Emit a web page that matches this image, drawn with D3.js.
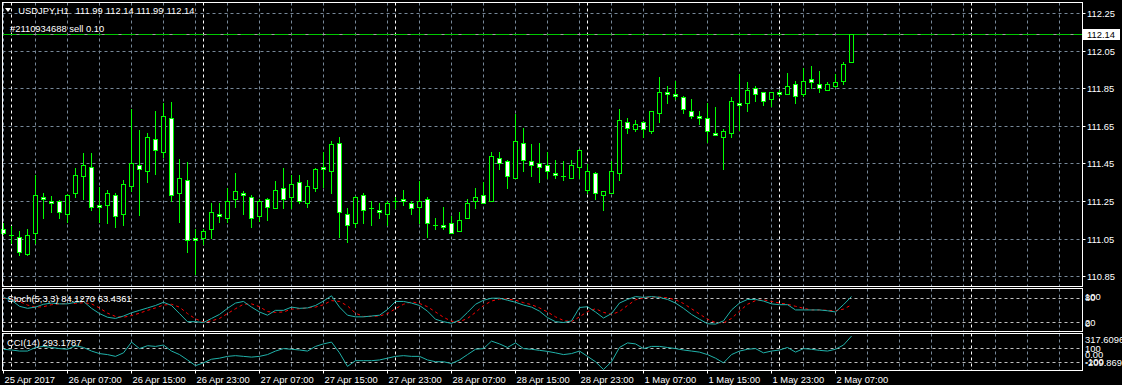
<!DOCTYPE html>
<html lang="en">
<head>
<meta charset="UTF-8">
<title>USDJPY,H1</title>
<script src="https://d3js.org/d3.v7.min.js"></script>
<style>
  body { margin: 0; background: #000; }
  svg { display: block; font-family: "Liberation Sans", Arial, sans-serif; font-size: 9.4px; }
  .lbl { fill: #fff; }
</style>
</head>
<body>
<svg width="1122" height="385"></svg>
<script>
// USDJPY H1 bars, first bar = 25 Apr 2017 23:00
const opens = [111.102,111.070,111.060,110.969,111.079,111.272,111.251,111.251,111.182,111.291,
  111.382,111.432,111.230,111.228,111.283,111.182,111.331,111.443,111.411,111.581,
  111.510,111.693,111.291,111.363,111.054,111.054,111.102,111.182,111.161,111.262,
  111.294,111.272,111.171,111.262,111.214,111.320,111.272,111.352,111.240,111.320,
  111.432,111.411,111.560,111.180,111.134,111.283,111.215,111.203,111.180,111.252,
  111.262,111.240,111.219,111.262,111.124,111.123,111.134,111.091,111.161,111.251,
  111.283,111.251,111.480,111.464,111.373,111.560,111.464,111.453,111.443,111.400,
  111.385,111.373,111.432,111.310,111.400,111.283,111.294,111.400,111.671,111.634,
  111.671,111.623,111.719,111.831,111.820,111.804,111.730,111.703,111.693,111.613,
  111.591,111.613,111.772,111.772,111.852,111.831,111.794,111.831,111.820,111.873,
  111.820,111.900,111.873,111.841,111.863,111.889,111.990];
const highs = [111.134,111.116,111.093,111.103,111.386,111.295,111.274,111.253,111.286,111.423,
  111.503,111.503,111.322,111.306,111.294,111.364,111.737,111.625,111.614,111.731,
  111.769,111.774,111.471,111.455,111.102,111.102,111.240,111.240,111.320,111.400,
  111.304,111.283,111.258,111.264,111.354,111.423,111.386,111.386,111.363,111.423,
  111.512,111.570,111.593,111.214,111.274,111.294,111.251,111.240,111.251,111.272,
  111.311,111.251,111.354,111.272,111.161,111.219,111.171,111.193,111.262,111.320,
  111.352,111.512,111.512,111.466,111.714,111.639,111.554,111.560,111.512,111.469,
  111.464,111.469,111.524,111.448,111.402,111.304,111.464,111.740,111.693,111.682,
  111.673,111.731,111.911,111.863,111.889,111.810,111.794,111.730,111.772,111.749,
  111.634,111.804,111.927,111.884,111.863,111.832,111.831,111.841,111.932,111.889,
  111.959,111.969,111.943,111.884,111.927,111.990,112.140];
const lows = [111.072,111.028,110.965,110.965,111.029,111.158,111.190,111.158,111.137,111.270,
  111.258,111.201,111.137,111.132,111.111,111.121,111.302,111.178,111.350,111.396,
  111.485,111.249,111.137,110.978,110.863,111.022,111.054,111.137,111.137,111.217,
  111.182,111.111,111.146,111.150,111.214,111.214,111.214,111.240,111.219,111.304,
  111.326,111.294,111.060,111.031,111.113,111.134,111.123,111.161,111.123,111.214,
  111.230,111.182,111.134,111.060,111.102,111.102,111.079,111.091,111.161,111.214,
  111.240,111.249,111.421,111.320,111.373,111.411,111.384,111.352,111.373,111.373,
  111.363,111.373,111.373,111.294,111.262,111.203,111.294,111.363,111.613,111.623,
  111.591,111.613,111.671,111.772,111.794,111.719,111.693,111.661,111.565,111.602,
  111.419,111.591,111.629,111.730,111.783,111.762,111.756,111.810,111.820,111.772,
  111.810,111.852,111.831,111.841,111.857,111.873,111.990];
const closes = [111.081,111.070,110.980,111.070,111.283,111.262,111.240,111.190,111.283,111.389,
  111.443,111.219,111.219,111.294,111.169,111.341,111.453,111.421,111.591,111.520,
  111.703,111.281,111.373,111.044,111.044,111.091,111.193,111.171,111.251,111.304,
  111.283,111.161,111.251,111.219,111.310,111.262,111.341,111.251,111.331,111.421,
  111.421,111.554,111.193,111.123,111.272,111.203,111.213,111.193,111.240,111.250,
  111.251,111.214,111.251,111.134,111.122,111.113,111.081,111.150,111.240,111.272,
  111.240,111.490,111.453,111.384,111.570,111.469,111.443,111.432,111.411,111.389,
  111.383,111.443,111.522,111.411,111.294,111.304,111.411,111.682,111.639,111.661,
  111.634,111.730,111.831,111.820,111.810,111.740,111.703,111.693,111.623,111.602,
  111.623,111.783,111.762,111.841,111.820,111.783,111.831,111.820,111.863,111.810,
  111.889,111.884,111.852,111.873,111.884,111.980,112.140];

// Stochastic (5,3,3): main and signal
const stochMain = [82,75,60,55,58,65,68,66,66,70,72,55,42,33,30,36,44,50,56,62,
  70,62,42,22,22,20,30,40,55,68,72,58,46,38,50,50,58,55,56,62,
  73,86,58,38,34,34,36,38,52,72,72,68,62,48,28,22,18,26,45,65,
  75,80,80,75,70,63,58,48,32,22,20,24,57,59,46,31,42,68,77,84,
  82,84,82,77,68,55,40,28,17,16,24,51,68,77,77,73,66,64,64,51,
  51,51,51,49,46,64,84.127];
const stochSignal = [80,78,72,63,58,59,64,66,67,67,69,66,56,43,35,33,37,43,50,56,
  63,65,58,42,29,21,24,30,42,54,65,66,59,47,45,46,53,54,56,58,
  64,74,72,61,43,35,35,36,42,54,65,71,67,59,46,33,23,22,30,45,
  62,73,78,78,75,69,64,56,46,34,25,22,34,47,54,45,40,47,62,76,
  81,83,83,81,76,67,54,41,28,20,19,30,48,65,74,76,72,68,65,60,
  55,51,51,50,49,53,63.4361];
// CCI(14)
const cci = [95,84,68,68,122,138,122,105,95,149,122,68,30,15,-12,41,203,105,149,138,
  159,68,15,-66,-152,-110,-55,-39,-12,-1,-12,-23,-12,15,68,105,95,84,68,138,
  176,203,41,-163,-77,-77,-77,-66,-39,-12,-1,-12,-12,-66,-93,-93,-120,-66,15,95,
  105,218,176,122,191,105,95,79,63,41,15,30,68,-12,-93,-209.9,-93,122,191,176,
  105,138,138,122,105,84,68,52,15,-39,-110,15,68,95,105,41,68,84,122,52,
  105,95,79,68,95,159,293.1787];

const priceTicks = [112.25, 112.05, 111.85, 111.65, 111.45, 111.25, 111.05, 110.85];
const timeTickBars = [0, 8, 16, 24, 32, 40, 48, 56, 64, 72, 80, 88, 96, 104];
const timeLabels = ["25 Apr 2017", "26 Apr 07:00", "26 Apr 15:00", "26 Apr 23:00", "27 Apr 07:00",
  "27 Apr 15:00", "27 Apr 23:00", "28 Apr 07:00", "28 Apr 15:00", "28 Apr 23:00",
  "1 May 07:00", "1 May 15:00", "1 May 23:00", "2 May 07:00"];
const daySeparators = [1, 25, 49, 73, 97, 121];
const stochLevels = [80, 20];
const cciLevels = [100, -100];
const cciRange = [-209.869, 317.6096];
const orderText = "#2110934688 sell 0.10";

const svg = d3.select("svg");
const N = opens.length;
const gridCol = "#778899", lime = "#00ff00", seaGreen = "#20b2aa";

// panels
const main = {top: 2.5, bottom: 286.5};
const stP = {top: 288.5, bottom: 331.5};
const ccP = {top: 333.5, bottom: 370.5};
const left = 2.5, right = 1082.5;

const x = d3.scaleLinear().domain([0, 1]).range([3.5, 11.5]);
const y = d3.scaleLinear().domain([110.85, 112.25]).range([276.7, 13.5]);
const ys = d3.scaleLinear().domain([0, 100]).range([330.6, 290.1]);
const yc = d3.scaleLinear().domain(cciRange).range([369.5, 334.5]);
const crisp = v => Math.floor(v) + 0.5;

svg.append("rect").attr("width", 1122).attr("height", 385).attr("fill", "#000");

// vertical grid + day separators in every panel
const gridBars = d3.range(0, 200, 4).filter(i => x(i) < right);
[main, stP, ccP].forEach(p => {
  svg.append("g").selectAll("line").data(gridBars).join("line")
    .attr("x1", d => x(d)).attr("x2", d => x(d))
    .attr("y1", p.top).attr("y2", p.bottom)
    .attr("stroke", gridCol).attr("stroke-dasharray", "3,3");
  svg.append("g").selectAll("line").data(daySeparators).join("line")
    .attr("x1", d => x(d)).attr("x2", d => x(d))
    .attr("y1", p.top).attr("y2", p.bottom)
    .attr("stroke", "#fff").attr("stroke-dasharray", "3,3");
});

// horizontal price grid
svg.append("g").selectAll("line").data(priceTicks).join("line")
  .attr("x1", left).attr("x2", right)
  .attr("y1", d => crisp(y(d))).attr("y2", d => crisp(y(d)))
  .attr("stroke", gridCol).attr("stroke-dasharray", "3,3");

// indicator levels
svg.append("g").selectAll("line").data(stochLevels).join("line")
  .attr("x1", left).attr("x2", right)
  .attr("y1", d => crisp(ys(d))).attr("y2", d => crisp(ys(d)))
  .attr("stroke", "#c0c0c0").attr("stroke-dasharray", "3,3");
svg.append("g").selectAll("line").data(cciLevels).join("line")
  .attr("x1", left).attr("x2", right)
  .attr("y1", d => crisp(yc(d))).attr("y2", d => crisp(yc(d)))
  .attr("stroke", "#c0c0c0").attr("stroke-dasharray", "3,3");

// bid / order line at last close
const last = N - 1;
const pl = crisp(y(closes[last]));
svg.append("line").attr("x1", left).attr("x2", right).attr("y1", pl).attr("y2", pl)
  .attr("stroke", "#a0a0a0");
svg.append("line").attr("x1", left).attr("x2", right).attr("y1", pl).attr("y2", pl)
  .attr("stroke", "#00c800").attr("stroke-dasharray", "14,3");

// candles
const bars = d3.range(N).map(i => ({i, o: opens[i], h: highs[i], l: lows[i], c: closes[i]}));
const cg = svg.append("g").attr("shape-rendering", "crispEdges");
cg.selectAll(".wick").data(bars).join("line")
  .attr("x1", d => x(d.i)).attr("x2", d => x(d.i))
  .attr("y1", d => Math.floor(y(d.h))).attr("y2", d => Math.floor(y(d.l)) + 1)
  .attr("stroke", lime);
bars.forEach(d => {
  const t = crisp(y(Math.max(d.o, d.c))), b = crisp(y(Math.min(d.o, d.c)));
  if (b - t < 1) {
    cg.append("line").attr("x1", x(d.i) - 2.5).attr("x2", x(d.i) + 2.5)
      .attr("y1", t).attr("y2", t).attr("stroke", lime);
  } else {
    cg.append("rect").attr("x", x(d.i) - 2).attr("y", t)
      .attr("width", 4).attr("height", b - t)
      .attr("fill", d.c > d.o ? "#000" : "#fff").attr("stroke", lime);
  }
});

// indicator lines
const stLine = d3.line().x((d, i) => x(i)).y(d => ys(d));
svg.append("path").datum(stochSignal).attr("d", stLine).attr("fill", "none")
  .attr("stroke", "#ff0000").attr("stroke-dasharray", "3,3");
svg.append("path").datum(stochMain).attr("d", stLine).attr("fill", "none")
  .attr("stroke", seaGreen);
svg.append("path").datum(cci).attr("d", d3.line().x((d, i) => x(i)).y(d => yc(d)))
  .attr("fill", "none").attr("stroke", seaGreen);

// panel frames
[main, stP, ccP].forEach(p => {
  svg.append("rect").attr("x", left).attr("y", p.top)
    .attr("width", right - left).attr("height", p.bottom - p.top)
    .attr("fill", "none").attr("stroke", "#fff");
});

// price axis
svg.append("g").selectAll("line").data(priceTicks).join("line")
  .attr("x1", right).attr("x2", right + 3)
  .attr("y1", d => crisp(y(d))).attr("y2", d => crisp(y(d))).attr("stroke", "#fff");
svg.append("g").selectAll("text").data(priceTicks).join("text")
  .attr("class", "lbl").attr("x", 1087).attr("y", d => y(d) + 3.5)
  .text(d => d.toFixed(2));
svg.append("rect").attr("x", 1083).attr("y", 29).attr("width", 37).attr("height", 11)
  .attr("fill", "#fff");
svg.append("text").attr("x", 1087).attr("y", y(closes[last]) + 3.5)
  .attr("fill", "#000").text(closes[last].toFixed(2));

// time axis
svg.append("g").selectAll("line").data(timeTickBars).join("line")
  .attr("x1", d => x(d)).attr("x2", d => x(d))
  .attr("y1", ccP.bottom).attr("y2", ccP.bottom + 3).attr("stroke", "#fff");
svg.append("g").selectAll("text").data(timeTickBars).join("text")
  .attr("class", "lbl").attr("x", d => x(d) + 1).attr("y", 383)
  .text((d, i) => timeLabels[i]);

// stoch scale labels (they overlap in the original too)
[[100, 296.5], [80, 297.5], [20, 322.5], [0, 323.5]].forEach(([v, yy]) => {
  svg.append("text").attr("class", "lbl").attr("x", 1085).attr("y", yy + 3.3).text(v);
});
// cci scale labels
[[cciRange[1].toFixed(4), 339.8], ["100", 348.8], ["0.00", 354.9], ["-100", 361.7],
 [cciRange[0].toFixed(3), 362.6]].forEach(([t, yy]) => {
  svg.append("text").attr("class", "lbl").attr("x", 1085).attr("y", yy + 3.3).text(t);
});

// header
svg.append("path").attr("d", "M5,8 L11,8 L8,12 Z").attr("fill", "#fff");
const head = [["USDJPY,H1", 18.3], [opens[last].toFixed(2), 75.5], [highs[last].toFixed(2), 105.8],
  [lows[last].toFixed(2), 136.2], [closes[last].toFixed(2), 166.5]];
head.forEach(([t, xx]) => svg.append("text").attr("class", "lbl").attr("x", xx).attr("y", 14.2).text(t));
svg.append("text").attr("class", "lbl").attr("x", 10).attr("y", 32.2).text(orderText);

svg.append("text").attr("class", "lbl").attr("x", 7.5).attr("y", 302)
  .text(`Stoch(5,3,3) ${stochMain[last].toFixed(4)} ${stochSignal[last].toFixed(4)}`);
svg.append("text").attr("class", "lbl").attr("x", 7).attr("y", 346.3)
  .text(`CCI(14) ${cci[last].toFixed(4)}`);
</script>
</body>
</html>
